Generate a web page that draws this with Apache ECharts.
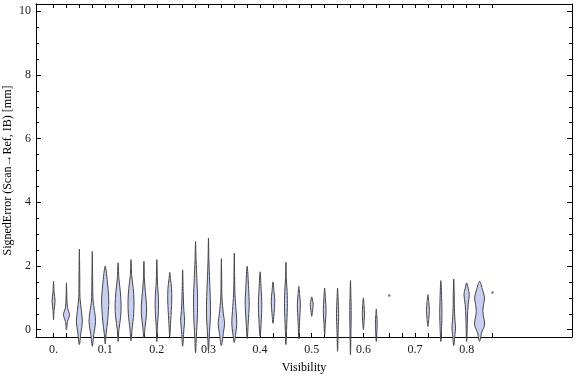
<!DOCTYPE html>
<html><head><meta charset="utf-8">
<script src="https://cdn.jsdelivr.net/npm/echarts@6/dist/echarts.min.js"></script>
<style>html,body{margin:0;padding:0;background:#fff}#c{width:576px;height:377px}</style>
</head><body><div id="c"></div>
<script>
// ---- data ----
const visibility = [0,0.025,0.05,0.075,0.1,0.125,0.15,0.175,0.2,0.225,0.25,0.275,0.3,0.325,0.35,0.375,0.4,0.425,0.45,0.475,0.5,0.525,0.55,0.575,0.6,0.625,0.725,0.75,0.775,0.8,0.825];
// violin outlines: [signed error (mm), relative density]
const violinShapes = [
  [[0.31,0],[0.6,0.5],[0.9,1.5],[1.2,0.5],[1.52,0]],
  [[0.0,0],[0.25,1],[0.47,3],[0.7,1],[1.0,0.4],[1.47,0]],
  [[-0.47,0],[-0.1,1.5],[0.25,3],[0.6,2],[1.0,0.6],[1.6,0.4],[2.53,0]],
  [[-0.52,0],[-0.15,1.5],[0.25,3.3],[0.6,2.2],[0.9,0.8],[1.5,0.4],[2.46,0]],
  [[-0.45,0],[-0.1,1],[0.3,2.5],[0.9,3.6],[1.4,2.5],[1.99,0]],
  [[-0.37,0],[0,0.8],[0.4,2.5],[0.75,3],[1.2,2.2],[1.6,0.8],[2.1,0]],
  [[-0.35,0],[0,1],[0.5,2.7],[0.9,3],[1.3,2.2],[1.7,0.7],[2.2,0]],
  [[-0.25,0],[0.1,1.2],[0.5,2.6],[0.8,2.5],[1.2,1.4],[1.6,0.5],[2.15,0]],
  [[-0.37,0],[0.1,0.6],[0.6,1.6],[1.0,1.6],[1.5,0.6],[2.2,0]],
  [[-0.2,0],[0.3,1],[0.9,2],[1.3,1.8],[1.6,0.7],[1.8,0]],
  [[-0.52,0],[0,1.2],[0.3,2],[0.6,1.2],[1.2,0.5],[1.88,0]],
  [[-0.73,0],[-0.2,0.8],[0.4,1.8],[1.0,2],[1.6,1.3],[2.2,0.5],[2.77,0]],
  [[-0.68,0],[-0.2,0.8],[0.4,1.9],[0.9,1.9],[1.5,1.2],[2.2,0.4],[2.88,0]],
  [[-0.5,0],[-0.1,2],[0.2,3.2],[0.5,2],[1.0,0.6],[1.6,0.3],[2.23,0]],
  [[-0.4,0],[-0.1,1.5],[0.2,2.5],[0.6,1.8],[1.1,0.7],[1.7,0.3],[2.4,0]],
  [[-0.28,0],[0.2,1],[0.8,2],[1.3,1.4],[1.99,0]],
  [[-0.2,0],[0.2,1],[0.8,1.7],[1.3,1],[1.82,0]],
  [[0.2,0],[0.5,1],[0.9,1.8],[1.2,1],[1.5,0]],
  [[-0.47,0],[0,0.6],[0.7,1.4],[1.2,1.2],[1.6,0.4],[2.12,0]],
  [[-0.29,0],[0.3,0.8],[0.8,1.5],[1.1,0.8],[1.36,0]],
  [[0.42,0],[0.6,0.8],[0.8,1.5],[0.9,0.9],[1.03,0]],
  [[-0.16,0],[0.2,0.7],[0.6,1.4],[1.0,0.7],[1.31,0]],
  [[-0.68,0],[0,0.6],[0.5,1.1],[1.0,0.5],[1.31,0]],
  [[-0.79,0],[0,0.5],[0.6,0.7],[1.1,0.4],[1.54,0]],
  [[0.0,0],[0.3,0.8],[0.5,1.1],[0.75,0.7],[1.0,0]],
  [[-0.37,0],[0,0.7],[0.2,0.9],[0.45,0.5],[0.65,0]],
  [[0.1,0],[0.35,0.9],[0.6,1.4],[0.85,0.9],[1.1,0]],
  [[-0.37,0],[0.1,0.8],[0.5,1.1],[1.0,0.8],[1.54,0]],
  [[-0.5,0],[-0.15,1.2],[0.05,1.8],[0.3,1.2],[0.7,0.6],[1.1,0.5],[1.59,0]],
  [[-0.37,0],[0,0.5],[0.4,0.8],[0.8,1.5],[1.1,2.7],[1.3,1.5],[1.47,0]],
  [[-0.37,0],[-0.1,2],[0.15,5],[0.4,4],[0.57,3.3],[0.8,4],[1.0,5],[1.25,3],[1.52,0]]
];
const singleVisibility = [0.65, 0.85];
const singleError = [1.07, 1.17];
const xTickLabels = [0,0.1,0.2,0.3,0.4,0.5,0.6,0.7,0.8];
const yTickLabels = [0,2,4,6,8,10];

// ---- layout / style ----
const XMIN = -0.034, XMAX = 1.004, YMIN = -0.23, YMAX = 10.23;
const FONT = 'Liberation Serif';
const DENSITY_PX = 1;
const xTicks = []; for (let k = 0; k <= 34; k++) xTicks.push(+(k*0.025).toFixed(3));
const yMinor = []; for (let k = 0; k <= 20; k++) if (k % 4) yMinor.push(k*0.5);

function renderViolin(params, api) {
  const i = params.dataIndex;
  const x = api.value(0);
  const prof = violinShapes[i];
  const right = [], left = [];
  prof.forEach(([v, d]) => {
    const p = api.coord([x, v]);
    right.push([p[0] + d*DENSITY_PX, p[1]]);
    left.push([p[0] - d*DENSITY_PX, p[1]]);
  });
  const pts = right.concat(left.slice(1, -1).reverse());
  return {type:'polygon', shape:{points:pts, smooth:0.3}, style:{fill:'#c9cff2', stroke:'#454545', lineWidth:1}};
}

const axLine = {show:true, onZero:false, lineStyle:{color:'#000', width:1}};
const noLine = {show:false, onZero:false};
const gridBox = {left:36, right:4, top:4, bottom:40, containLabel:false, outerBoundsMode:'none'};
const option = {
  animation:false,
  grid:[Object.assign({}, gridBox), Object.assign({}, gridBox)],
  xAxis:[
    {type:'value', gridIndex:0, position:'bottom', min:XMIN, max:XMAX, axisLine:axLine,
     axisTick:{inside:true, length:4, customValues:xTicks, lineStyle:{color:'#000'}},
     axisLabel:{customValues:xTickLabels, margin:7, fontFamily:FONT, fontSize:12, color:'#1a1a1a',
       formatter:v => v === 0 ? '0.' : String(+v.toFixed(1))},
     splitLine:{show:false},
     name:'Visibility', nameLocation:'middle', nameGap:25, nameMoveOverlap:false,
     nameTextStyle:{fontFamily:FONT, fontSize:12, color:'#000'}},
    {type:'value', gridIndex:0, position:'top', min:XMIN, max:XMAX, axisLine:axLine,
     axisTick:{inside:true, length:4, customValues:xTicks, lineStyle:{color:'#000'}},
     axisLabel:{show:false}, splitLine:{show:false}},
    {type:'value', gridIndex:1, position:'bottom', min:XMIN, max:XMAX, axisLine:noLine,
     axisTick:{show:false}, axisLabel:{show:false}, splitLine:{show:false}}
  ],
  yAxis:[
    {type:'value', gridIndex:0, position:'left', min:YMIN, max:YMAX, axisLine:axLine,
     axisTick:{inside:true, length:5, customValues:yTickLabels, lineStyle:{color:'#000'}},
     axisLabel:{customValues:yTickLabels, margin:5, fontFamily:FONT, fontSize:12, color:'#1a1a1a'},
     splitLine:{show:false},
     name:'SignedError (Scan\u2192Ref, IB) [mm]', nameLocation:'middle', nameGap:22, nameRotate:90,
     nameMoveOverlap:false,
     nameTextStyle:{fontFamily:FONT, fontSize:12, color:'#000'}},
    {type:'value', gridIndex:0, position:'right', min:YMIN, max:YMAX, axisLine:axLine,
     axisTick:{inside:true, length:5, customValues:yTickLabels, lineStyle:{color:'#000'}},
     axisLabel:{show:false}, splitLine:{show:false}},
    {type:'value', gridIndex:1, position:'left', min:YMIN, max:YMAX, axisLine:noLine,
     axisTick:{inside:true, length:3, customValues:yMinor, lineStyle:{color:'#000'}},
     axisLabel:{show:false}, splitLine:{show:false}},
    {type:'value', gridIndex:1, position:'right', min:YMIN, max:YMAX, axisLine:noLine,
     axisTick:{inside:true, length:3, customValues:yMinor, lineStyle:{color:'#000'}},
     axisLabel:{show:false}, splitLine:{show:false}}
  ],
  series:[
    {type:'custom', xAxisIndex:0, yAxisIndex:0, clip:false, renderItem:renderViolin,
     data:visibility.map((x, i) => [x, violinShapes[i][0][0], violinShapes[i][violinShapes[i].length-1][0]]),
     encode:{x:0, y:[1,2]}},
    {type:'scatter', xAxisIndex:0, yAxisIndex:0, symbol:'circle', symbolSize:2.5,
     itemStyle:{color:'#555'}, data:singleVisibility.map((x, i) => [x, singleError[i]])}
  ]
};
echarts.init(document.getElementById('c')).setOption(option);
</script>
</body></html>
